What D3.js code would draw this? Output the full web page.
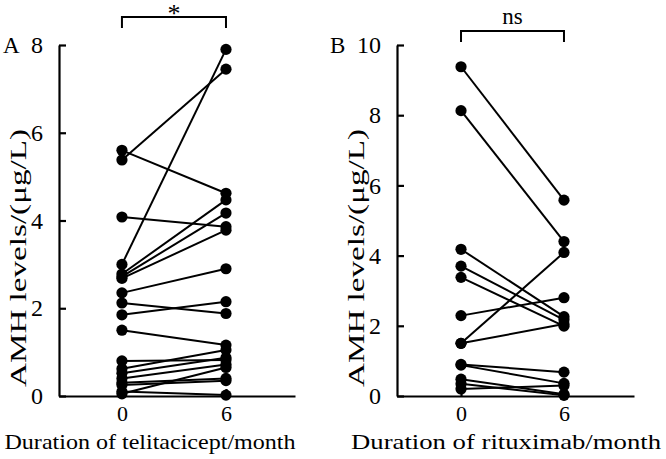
<!DOCTYPE html>
<html><head><meta charset="utf-8">
<script src="https://cdn.jsdelivr.net/npm/d3@7"></script>
<style>body{margin:0;background:#fff}svg{display:block}text{font-family:"Liberation Serif","Times New Roman",serif;fill:#000}</style>
</head><body><div id="c"></div>
<script>
// Panel A: telitacicept, month 0 vs month 6
const timepoints = [0, 6];
const tickLabelsX = ["0", "6"];
const aMonth0 = [5.60, 5.38, 4.08, 3.00, 2.78, 2.72, 2.68, 2.35, 2.12, 1.85, 1.50, 0.80, 0.62, 0.52, 0.40, 0.30, 0.25, 0.10, 0.05];
const aMonth6 = [4.62, 7.45, 3.86, 7.90, 4.47, 4.17, 3.78, 2.90, 1.88, 2.15, 1.16, 0.82, 1.05, 0.87, 0.72, 0.40, 0.35, 0.02, 0.65];
const aTicksY = [0, 2, 4, 6, 8];
// Panel B: rituximab, month 0 vs month 6
const bMonth0 = [9.38, 8.13, 4.18, 3.70, 3.38, 2.29, 1.50, 1.50, 0.90, 0.88, 0.48, 0.35, 0.20];
const bMonth6 = [5.58, 4.40, 2.26, 2.17, 1.99, 2.80, 4.09, 2.05, 0.68, 0.36, 0.05, 0.02, 0.30];
const bTicksY = [0, 2, 4, 6, 8, 10];
const panels = [
  {letter: "A", m0: aMonth0, m6: aMonth6, ticks: aTicksY, ymax: 8, sig: "*", xlabel: "Duration of telitacicept/month"},
  {letter: "B", m0: bMonth0, m6: bMonth6, ticks: bTicksY, ymax: 10, sig: "ns", xlabel: "Duration of rituximab/month"}
];
const geo = [
  {left: 59, right: 295, dom: [-3.63, 9.98], letterX: 3, ylabX: 26, xlabX: 150, xlabLen: 291},
  {left: 397, right: 634, dom: [-3.73, 10.08], letterX: 330, ylabX: 364, xlabX: 506, xlabLen: 310}
];
const W = 666, H = 459, plotTop = 45, plotBottom = 396;
const svg = d3.select("#c").append("svg").attr("width", W).attr("height", H);

panels.forEach((p, i) => {
  const g = geo[i];
  const x = d3.scaleLinear().domain(g.dom).range([g.left, g.right]);
  const y = d3.scaleLinear().domain([0, p.ymax]).range([plotBottom, plotTop]);
  const G = svg.append("g");
  // y axis
  const ya = G.append("g").attr("transform", `translate(${g.left},0)`)
    .call(d3.axisLeft(y).tickValues(p.ticks).tickSize(-7).tickPadding(16).tickSizeOuter(0));
  ya.select(".domain").attr("stroke-width", 2.2).attr("stroke", "#000");
  ya.selectAll(".tick line").attr("stroke-width", 2.2).attr("stroke", "#000");
  ya.selectAll("text").attr("font-size", 24).attr("font-family", '"Liberation Serif",serif');
  // x axis
  const xa = G.append("g").attr("transform", `translate(0,${plotBottom})`)
    .call(d3.axisBottom(x).tickValues(timepoints).tickFormat((d, k) => tickLabelsX[k]).tickSize(-7).tickPadding(9).tickSizeOuter(0));
  xa.select(".domain").attr("stroke-width", 2.2).attr("stroke", "#000");
  xa.selectAll(".tick line").attr("stroke-width", 2.2).attr("stroke", "#000");
  xa.selectAll("text").attr("font-size", 22).attr("font-family", '"Liberation Serif",serif');
  // paired lines
  const pairs = p.m0.map((v, k) => [v, p.m6[k]]);
  G.append("g").selectAll("line").data(pairs).join("line")
    .attr("x1", x(timepoints[0])).attr("x2", x(timepoints[1]))
    .attr("y1", d => y(d[0])).attr("y2", d => y(d[1]))
    .attr("stroke", "#000").attr("stroke-width", 2);
  const pts = [];
  pairs.forEach(d => { pts.push([timepoints[0], d[0]]); pts.push([timepoints[1], d[1]]); });
  G.append("g").selectAll("circle").data(pts).join("circle")
    .attr("cx", d => x(d[0])).attr("cy", d => y(d[1])).attr("r", 5.6).attr("fill", "#000");
  // significance bracket
  const by = i === 0 ? 17 : 31, legs = 11;
  G.append("path").attr("d", `M${x(0)},${by + legs}V${by}H${x(6)}V${by + legs}`)
    .attr("fill", "none").attr("stroke", "#000").attr("stroke-width", 2);
  G.append("text").attr("x", (x(0) + x(6)) / 2).attr("y", i === 0 ? 22 : 24)
    .attr("text-anchor", "middle").attr("font-size", i === 0 ? 26 : 23).text(p.sig);
  // panel letter
  G.append("text").attr("x", g.letterX).attr("y", 53).attr("font-size", 23).text(p.letter);
  // y label
  G.append("text").attr("transform", `translate(${g.ylabX},258) rotate(-90)`)
    .attr("text-anchor", "middle").attr("font-size", 24)
    .attr("textLength", 258).attr("lengthAdjust", "spacingAndGlyphs").text("AMH levels/(μg/L)");
  // x label
  G.append("text").attr("x", g.xlabX).attr("y", 449).attr("text-anchor", "middle")
    .attr("font-size", 22).attr("textLength", g.xlabLen).attr("lengthAdjust", "spacingAndGlyphs").text(p.xlabel);
});
</script></body></html>
